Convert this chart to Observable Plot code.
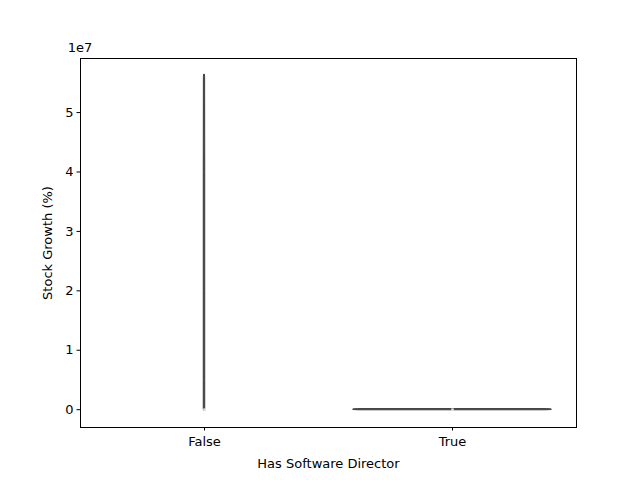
<!DOCTYPE html>
<html><head><meta charset="utf-8">
<script src="https://cdn.jsdelivr.net/npm/d3@7"></script>
<script src="https://cdn.jsdelivr.net/npm/@observablehq/plot@0.6"></script>
<style>body{margin:0;background:#fff;font-family:"DejaVu Sans",sans-serif}</style>
</head><body><div id="chart"></div>
<script>
const categories = ["False", "True"];
// violin outlines: stock growth values and half-widths (fraction of category slot)
const falseValues = [-0.02e7, 0.0e7, 0.5e7, 2e7, 4e7, 5.6e7, 5.64e7];
const falseHalfWidth = [0.001, 0.003, 0.003, 0.003, 0.003, 0.0025, 0.001];
const trueValues = [-0.01e7, -0.005e7, 0.0e7, 0.005e7, 0.01e7];
const trueHalfWidth = [0.38, 0.4, 0.4, 0.4, 0.38];
const medians = [0, 0];
const yTicks = [0, 1e7, 2e7, 3e7, 4e7, 5e7];

const violins = [
  ...falseValues.map((v, i) => ({cat: 0, y: v, w: falseHalfWidth[i]})),
  ...trueValues.map((v, i) => ({cat: 1, y: v, w: trueHalfWidth[i]}))
];

const plot = Plot.plot({
  width: 640, height: 480,
  marginLeft: 80, marginRight: 64, marginTop: 58, marginBottom: 53,
  style: {fontFamily: "DejaVu Sans, sans-serif", fontSize: "13px", color: "#000", background: "#fff"},
  x: {domain: [-0.5, 1.5]},
  y: {domain: [-0.3e7, 5.91e7]},
  marks: [
    Plot.areaX(violins, {y: "y", x1: d => d.cat - d.w, x2: d => d.cat + d.w, z: "cat",
      fill: "#444", stroke: "#3f3f3f", strokeWidth: 1, curve: "linear"}),
    Plot.dot(medians.map((m, i) => ({cat: i, m})), {x: "cat", y: "m", symbol: "square", r: 1.5, fill: "#ddd", stroke: "none"}),
    Plot.frame({stroke: "#000", strokeWidth: 1}),
    Plot.axisX([0, 1], {tickFormat: i => categories[i], tickSize: 3.5, tickPadding: 6,
      label: "Has Software Director", labelAnchor: "center", labelArrow: "none", labelOffset: 40, fontSize: 13}),
    Plot.axisY(yTicks, {tickFormat: d => String(d / 1e7), tickSize: 3.5, tickPadding: 3.5,
      label: "Stock Growth (%)", labelAnchor: "center", labelArrow: "none", labelOffset: 38, fontSize: 13})
  ]
});
const svg = d3.select(plot);
svg.append("text").attr("x", 80).attr("y", 52).attr("font-size", 13)
  .attr("font-family", "DejaVu Sans, sans-serif").text("1e7");
document.getElementById("chart").appendChild(plot);
</script></body></html>
